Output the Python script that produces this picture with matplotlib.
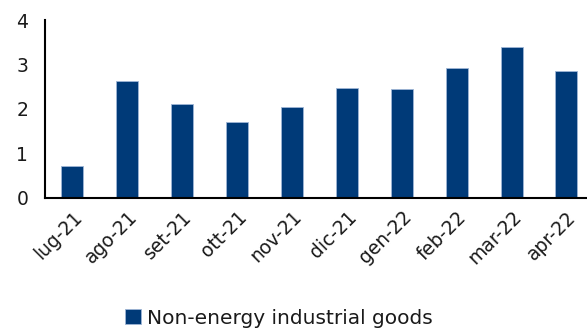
import matplotlib
matplotlib.use("Agg")
import matplotlib.pyplot as plt

categories = ["lug-21", "ago-21", "set-21", "ott-21", "nov-21", "dic-21",
              "gen-22", "feb-22", "mar-22", "apr-22"]
values = [0.71, 2.62, 2.11, 1.70, 2.05, 2.46, 2.44, 2.92, 3.39, 2.85]
series_name = "Non-energy industrial goods"
yticks = [0, 1, 2, 3, 4]

plt.rcParams['font.family'] = ['DejaVu Sans']
fig = plt.figure(figsize=(5.87, 3.34), dpi=100)
ax = fig.add_axes([0.0767, 0.408, 0.935, 0.532])
x = range(len(categories))
ax.bar(x, values, width=0.40, color="#003A78", edgecolor="#9fb6d6",
       linewidth=0.6, label=series_name)
ax.set_xlim(-0.5, len(categories) - 0.5)
ax.set_ylim(0, 4)
ax.set_yticks(yticks)
ax.set_yticklabels([str(t) for t in yticks], fontsize=13.5, color="#1a1a1a")
ax.set_xticks(list(x))
ax.set_xticklabels(categories, rotation=45, ha="right", rotation_mode="anchor",
                   fontsize=13.5, color="#1a1a1a")
ax.tick_params(axis="both", length=0)
ax.tick_params(axis="y", pad=12)
ax.tick_params(axis="x", pad=7)
for s in ["top", "right"]:
    ax.spines[s].set_visible(False)
for s in ["left", "bottom"]:
    ax.spines[s].set_linewidth(1.5)
    ax.spines[s].set_color("black")
fig.legend(loc="lower center", bbox_to_anchor=(0.475, -0.035), frameon=False,
           fontsize=14.5, handlelength=0.8, handleheight=0.8, handletextpad=0.3,
           labelcolor="#1a1a1a")
fig.savefig("out.png", dpi=100)
